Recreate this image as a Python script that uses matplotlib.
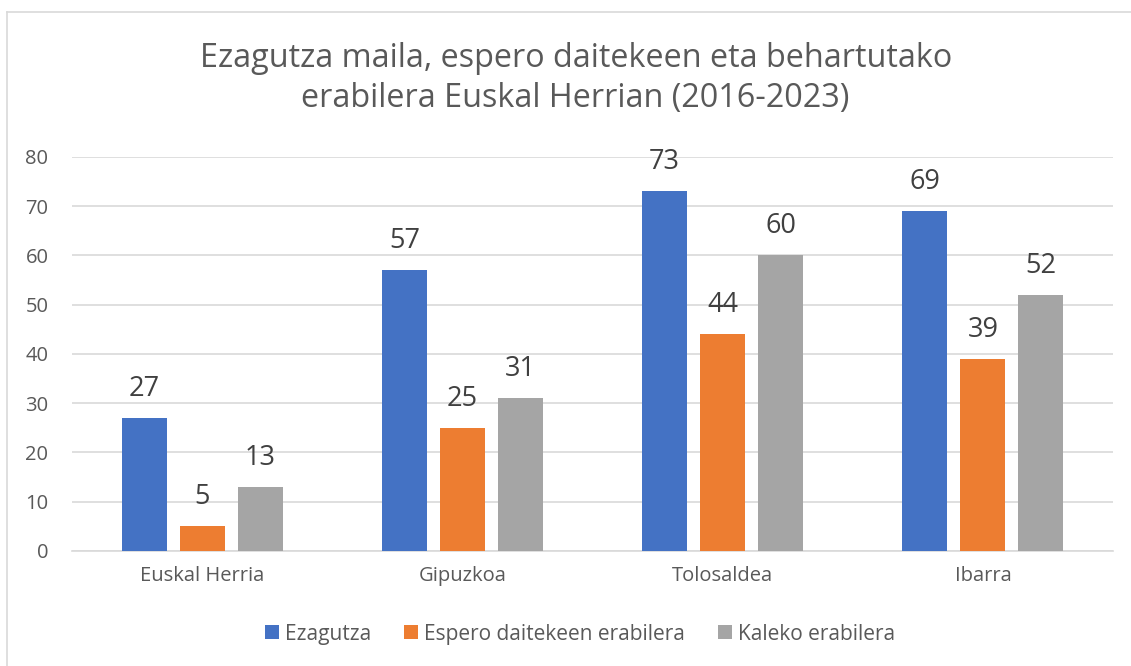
import matplotlib.pyplot as plt
import numpy as np

plt.rcParams["font.family"] = ["Open Sans", "DejaVu Sans"]

categories = ["Euskal Herria", "Gipuzkoa", "Tolosaldea", "Ibarra"]
series_names = ["Ezagutza", "Espero daitekeen erabilera", "Kaleko erabilera"]
ezagutza = [27, 57, 73, 69]
espero = [5, 25, 44, 39]
kaleko = [13, 31, 60, 52]
yticks = [0, 10, 20, 30, 40, 50, 60, 70, 80]

colors = ["#4472C4", "#ED7D31", "#A5A5A5"]
txt = "#595959"
grid = "#D9D9D9"

fig = plt.figure(figsize=(11.31, 6.66), dpi=100)
ax = fig.add_axes([0.0637, 0.1727, 0.9204, 0.5916])

x = np.arange(len(categories))
width = 0.173
step = 0.223
for i, (vals, name) in enumerate(zip([ezagutza, espero, kaleko], series_names)):
    pos = x + (i - 1) * step
    ax.bar(pos, vals, width, color=colors[i], label=name, zorder=3)
    for p, v in zip(pos, vals):
        ax.annotate(str(v), (p, v), xytext=(0, 21), textcoords="offset points",
                    ha="center", va="center", fontsize=19.5, color="#404040")

ax.set_xlim(-0.5, len(categories) - 0.5)
ax.set_ylim(0, 80)
ax.set_yticks(yticks)
ax.set_xticks(x)
ax.set_xticklabels(categories, fontsize=14.5, color=txt)
ax.tick_params(axis="y", labelsize=14.5, labelcolor=txt, length=0, pad=17)
ax.tick_params(axis="x", length=0, pad=11)
ax.grid(axis="y", color=grid, linewidth=1.2, zorder=0)
for s in ["top", "right", "left"]:
    ax.spines[s].set_visible(False)
ax.spines["bottom"].set_color(grid)
ax.spines["bottom"].set_linewidth(1.2)

fig.text(0.509, 0.882, "Ezagutza maila, espero daitekeen eta behartutako\nerabilera Euskal Herrian (2016-2023)",
         ha="center", va="center", fontsize=23.3, color=txt, linespacing=1.3)

leg = fig.legend(loc="center", bbox_to_anchor=(0.513, 0.048), ncol=3, frameon=False,
                 fontsize=15, handlelength=0.65, handleheight=0.65, handletextpad=0.3,
                 columnspacing=1.6)
for t in leg.get_texts():
    t.set_color(txt)

# chart border (top and left visible)
fig.add_artist(plt.Line2D([7 / 1131, 1], [1 - 12 / 666, 1 - 12 / 666], color=grid, linewidth=1.2))
fig.add_artist(plt.Line2D([7 / 1131, 7 / 1131], [0, 1 - 12 / 666], color=grid, linewidth=1.2))

fig.savefig("out.png", dpi=100)
